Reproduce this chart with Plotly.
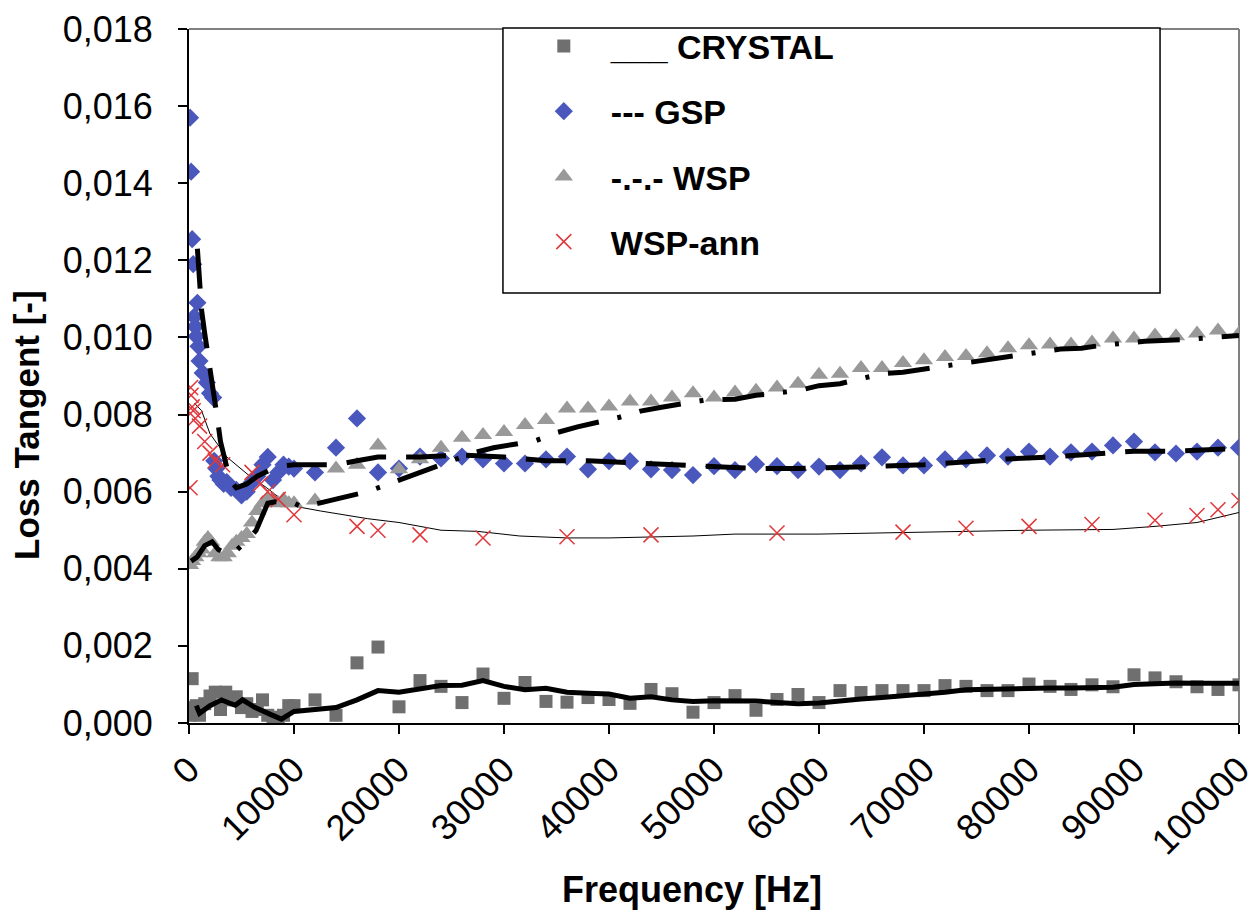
import plotly.graph_objects as go

# ---------------- data ----------------
F_HIGH = [10000, 12000, 14000, 16000, 18000, 20000, 22000, 24000, 26000, 28000,
          30000, 32000, 34000, 36000, 38000, 40000, 42000, 44000, 46000, 48000,
          50000, 52000, 54000, 56000, 58000, 60000, 62000, 64000, 66000, 68000,
          70000, 72000, 74000, 76000, 78000, 80000, 82000, 84000, 86000, 88000,
          90000, 92000, 94000, 96000, 98000, 100000]

# CRYSTAL measured points
crystal_f_low = [100, 200, 300, 500, 700, 1000, 1500, 2000, 2500, 3000, 3500, 4000,
                 4500, 5000, 5500, 6000, 6500, 7000, 7500, 8000, 8500, 9000, 9500]
crystal_v_low = [0.0002, 0.0004, 0.00115, 0.0003, 0.00045, 0.0002, 0.0005, 0.0007,
                 0.0008, 0.00035, 0.0008, 0.0006, 0.00068, 0.0004, 0.0005, 0.0003,
                 0.00035, 0.0006, 0.0002, 0.00015, 0.0001, 0.0002, 0.00045]
crystal_v_high = [0.00045, 0.0006, 0.0002, 0.00156, 0.00197, 0.00042, 0.0011, 0.00095,
                  0.00053, 0.00127, 0.00064, 0.00105, 0.00056, 0.00054, 0.00066, 0.00061,
                  0.00051, 0.00087, 0.00076, 0.00028, 0.00053, 0.00071, 0.00033, 0.00061,
                  0.00074, 0.00053, 0.00084, 0.00079, 0.00084, 0.00084, 0.00084, 0.00097,
                  0.00095, 0.00084, 0.00084, 0.00101, 0.00095, 0.00087, 0.00099, 0.00094,
                  0.00125, 0.00117, 0.00107, 0.00094, 0.00087, 0.00099]

# GSP measured points
gsp_f_low = [100, 200, 300, 400, 500, 600, 700, 800, 900, 1000, 1300, 1700, 2000, 2300,
             2400, 2600, 2800, 3000, 3300, 3600, 4000, 4500, 5000, 5500, 6000, 6500,
             7000, 7500, 8000, 8500, 9000, 9500]
gsp_v_low = [0.0157, 0.0143, 0.01255, 0.0119, 0.01054, 0.01028, 0.01003, 0.0109,
             0.00977, 0.00939, 0.00908, 0.00883, 0.00855, 0.00844, 0.0068, 0.0066,
             0.0064, 0.0063, 0.0062, 0.00625, 0.0061, 0.00605, 0.0059, 0.006, 0.00625,
             0.0064, 0.0067, 0.0069, 0.0063, 0.0065, 0.0067, 0.00665]
gsp_v_high = [0.0066, 0.0065, 0.00714, 0.0079, 0.0065, 0.0066, 0.00691, 0.00686,
              0.00691, 0.00684, 0.00673, 0.00673, 0.00684, 0.00691, 0.00658, 0.00679,
              0.00679, 0.00658, 0.00656, 0.00643, 0.00666, 0.00656, 0.00671, 0.00666,
              0.00656, 0.00665, 0.00656, 0.00673, 0.00689, 0.00668, 0.00668, 0.00684,
              0.00684, 0.00694, 0.00691, 0.00704, 0.00691, 0.00702, 0.00704, 0.0072,
              0.0073, 0.00702, 0.00699, 0.00704, 0.00714, 0.00714]

# WSP measured points
wsp_f_low = [100, 300, 600, 900, 1200, 1500, 1800, 2100, 2500, 2900, 3300, 3700, 4100,
             4500, 5000, 5500, 6000, 6500, 7000, 7500, 8000, 8500, 9000, 9500]
wsp_v_low = [0.0041, 0.0042, 0.0043, 0.0044, 0.0045, 0.0047, 0.0048, 0.0047, 0.0044,
             0.0043, 0.0043, 0.0044, 0.0046, 0.0047, 0.0048, 0.0049, 0.0052, 0.0055,
             0.0057, 0.0058, 0.0058, 0.0057, 0.0058, 0.0057]
wsp_v_high = [0.0057, 0.00577, 0.0066, 0.0067, 0.0072, 0.00658, 0.00684, 0.00714,
              0.0074, 0.00747, 0.00755, 0.00773, 0.00786, 0.00816, 0.00816, 0.00821,
              0.00834, 0.00834, 0.00844, 0.00855, 0.00844, 0.00857, 0.00862, 0.0087,
              0.0088, 0.00903, 0.00906, 0.00921, 0.00921, 0.00934, 0.00941, 0.00949,
              0.00952, 0.00959, 0.00972, 0.0098, 0.00982, 0.00982, 0.00987, 0.00997,
              0.00997, 0.01005, 0.01003, 0.0101, 0.01018, 0.0101]

# WSP-ann measured points
ann_f = [100, 150, 200, 300, 400, 600, 1000, 1500, 2000, 2500, 3200, 6000, 6800, 7500,
         8500, 10000, 16000, 18000, 22000, 28000, 36000, 44000, 56000, 68000, 74000,
         80000, 86000, 92000, 96000, 98000, 100000]
ann_v = [0.0061, 0.0087, 0.0085, 0.0082, 0.0081, 0.0079, 0.0077, 0.0073, 0.007, 0.0068,
         0.0067, 0.0065, 0.0062, 0.006, 0.0058, 0.0054, 0.0051, 0.005, 0.00488, 0.0048,
         0.00483, 0.00488, 0.00493, 0.00495, 0.00505, 0.0051, 0.00515, 0.00526, 0.00538,
         0.00553, 0.00577]

# fitted curves
crystal_fit_f = [700, 1000, 2000, 3100, 4000, 4400, 5100, 6300, 7700, 8800, 10000]
crystal_fit_v_low = [0.00045, 0.00025, 0.00045, 0.0006, 0.0005, 0.00046, 0.0006, 0.0004,
                     0.00023, 0.0001, 0.0003]
crystal_fit_v_high = [0.0003, 0.00036, 0.0004, 0.0006, 0.00084, 0.0008, 0.0009, 0.00097,
                      0.00098, 0.0011, 0.00095, 0.00086, 0.0009, 0.0008, 0.00077, 0.00075,
                      0.00064, 0.00068, 0.0006, 0.00056, 0.00058, 0.00058, 0.00057,
                      0.00053, 0.0005, 0.00052, 0.00058, 0.00062, 0.00066, 0.0007,
                      0.00074, 0.0008, 0.00086, 0.00088, 0.0009, 0.0009, 0.00091,
                      0.00091, 0.00092, 0.00093, 0.001, 0.00103, 0.00104, 0.00103,
                      0.00103, 0.00103]

gsp_fit_f = [800, 1000, 1200, 1500, 1800, 2200, 2700, 3000, 3500, 3900, 4500, 5500,
             6500, 7500, 8400, 10000, 12000, 14000, 16000, 18000, 20000, 22000, 26000,
             30000, 34000, 38000, 42000, 46000, 50000, 54000, 58000, 62000, 66000,
             70000, 74000, 78000, 82000, 86000, 90000, 94000, 100000]
gsp_fit_v = [0.0123, 0.0113, 0.0107, 0.0101, 0.0096, 0.0089, 0.0079, 0.0073, 0.0067,
             0.0063, 0.0061, 0.0062, 0.0064, 0.00655, 0.00665, 0.0067, 0.0067, 0.0067,
             0.0068, 0.0069, 0.0069, 0.0069, 0.00695, 0.0069, 0.0068, 0.0068, 0.00675,
             0.0067, 0.00665, 0.0066, 0.0066, 0.00662, 0.00666, 0.0067, 0.00678,
             0.00685, 0.0069, 0.00698, 0.00705, 0.00705, 0.00712]

wsp_fit_f = [200, 760, 1500, 2200, 2800, 3400, 4200, 5000, 5800, 6400, 7000, 7500, 8200,
             9500, 10000, 10800, 13000, 17000, 19000, 21000, 25000, 27000, 29000, 33000,
             35000, 37000, 41000, 43000, 45000, 49000, 52000, 54000, 58000, 60000, 62000,
             66000, 68000, 70000, 74000, 77000, 79000, 83000, 85000, 87000, 91000, 93000,
             95000, 100000]
wsp_fit_v = [0.0042, 0.0043, 0.0046, 0.0047, 0.0045, 0.0044, 0.0044, 0.0046, 0.0048,
             0.005, 0.0054, 0.0057, 0.00574, 0.0057, 0.0057, 0.0056, 0.00574, 0.006,
             0.0062, 0.0064, 0.0068, 0.007, 0.00714, 0.00732, 0.00753, 0.00768, 0.00793,
             0.00809, 0.00819, 0.00837, 0.0084, 0.0085, 0.00862, 0.00875, 0.0088,
             0.00906, 0.0091, 0.00918, 0.00934, 0.00944, 0.00952, 0.0097, 0.00972,
             0.0098, 0.0099, 0.00992, 0.00995, 0.01005]

ann_fit_f = [500, 1200, 2000, 3600, 5800, 7400, 9300, 10500, 12500, 17000, 20000, 24000,
             27500, 31500, 36000, 40000, 48000, 52000, 60000, 70000, 80000, 88000, 92000,
             96000, 100000]
ann_fit_v = [0.0083, 0.0081, 0.0075, 0.0069, 0.0064, 0.0061, 0.0057, 0.0056, 0.0055,
             0.0053, 0.0052, 0.005, 0.00497, 0.00485, 0.0048, 0.0048, 0.00485, 0.0049,
             0.0049, 0.00495, 0.005, 0.00502, 0.0051, 0.0052, 0.00546]

X_TICKS = [0, 10000, 20000, 30000, 40000, 50000, 60000, 70000, 80000, 90000, 100000]
Y_TICKS = [0.0, 0.002, 0.004, 0.006, 0.008, 0.010, 0.012, 0.014, 0.016, 0.018]

# ---------------- figure ----------------
FONT = "Liberation Sans, Arial, sans-serif"
fig = go.Figure()

fig.add_trace(go.Scatter(x=ann_fit_f, y=ann_fit_v, mode="lines",
                         line=dict(color="black", width=1), showlegend=False,
                         hoverinfo="skip"))

fig.add_trace(go.Scatter(x=crystal_f_low + F_HIGH, y=crystal_v_low + crystal_v_high,
                         mode="markers", name="___ CRYSTAL", legendgroup="a",
                         marker=dict(symbol="square", size=13, color="#6f6f6f")))
fig.add_trace(go.Scatter(x=gsp_f_low + F_HIGH, y=gsp_v_low + gsp_v_high,
                         mode="markers", name="--- GSP", legendgroup="b",
                         marker=dict(symbol="diamond", size=14, color="#4a58bd")))
fig.add_trace(go.Scatter(x=wsp_f_low + F_HIGH, y=wsp_v_low + wsp_v_high,
                         mode="markers", name="-.-.- WSP", legendgroup="c",
                         marker=dict(symbol="triangle-up", size=16, color="#999999")))
fig.add_trace(go.Scatter(x=ann_f, y=ann_v, mode="markers", name="WSP-ann",
                         legendgroup="d",
                         marker=dict(symbol="x-thin", size=15,
                                     line=dict(color="#e0383c", width=1.5),
                                     color="#e0383c")))

fig.add_trace(go.Scatter(x=crystal_fit_f + F_HIGH[1:], y=crystal_fit_v_low + crystal_fit_v_high[1:],
                         mode="lines", line=dict(color="black", width=5),
                         showlegend=False, hoverinfo="skip"))
fig.add_trace(go.Scatter(x=gsp_fit_f, y=gsp_fit_v, mode="lines",
                         line=dict(color="black", width=5, dash="40px,20px"),
                         showlegend=False, hoverinfo="skip"))
fig.add_trace(go.Scatter(x=wsp_fit_f, y=wsp_fit_v, mode="lines",
                         line=dict(color="black", width=5, dash="42px,19px,4px,19px"),
                         showlegend=False, hoverinfo="skip"))

# grey frame on top and right, legend box
fig.add_shape(type="line", xref="paper", yref="paper", x0=0, x1=1, y0=1, y1=1,
              line=dict(color="#808080", width=2), layer="below")
fig.add_shape(type="line", xref="paper", yref="paper", x0=1, x1=1, y0=0, y1=1,
              line=dict(color="#808080", width=2), layer="below")
fig.add_shape(type="rect", xref="paper", yref="paper", x0=0.299, x1=0.9248,
              y0=0.6196, y1=1.0014, line=dict(color="black", width=1.5),
              fillcolor="white", layer="below")

# axis titles
fig.add_annotation(text="<b>Frequency [Hz]</b>", xref="paper", yref="paper",
                   x=0.479, y=-0.2406, xanchor="center", yanchor="middle",
                   showarrow=False, font=dict(family=FONT, size=36, color="black"))
fig.add_annotation(text="<b>Loss Tangent [-]</b>", xref="paper", yref="paper",
                   x=-0.1543, y=0.4294, xanchor="center", yanchor="middle",
                   textangle=-90, showarrow=False,
                   font=dict(family=FONT, size=35, color="black"))

# the page body adds an 8px offset; the figure is sized so the plot lands in place
fig.update_layout(
    width=1250, height=911,
    margin=dict(l=181, r=19, t=21, b=196, autoexpand=False),
    paper_bgcolor="white", plot_bgcolor="white",
    separators=", ",
    font=dict(family=FONT, color="black", size=36),
    showlegend=True,
    legend=dict(x=0.3122, y=1.0167, xanchor="left", yanchor="top",
                bgcolor="rgba(0,0,0,0)", borderwidth=0,
                font=dict(family=FONT, size=34, weight="bold", color="black"),
                itemwidth=84, traceorder="grouped", tracegroupgap=18),
    xaxis=dict(range=[0, 100000.5], tickvals=X_TICKS, tickformat="d", tickangle=-45,
               showline=True, linecolor="black", linewidth=2, mirror=False,
               ticks="outside", ticklen=9, tickwidth=2, tickcolor="black",
               showgrid=False, zeroline=False, automargin=False,
               ticklabeloverflow="allow",
               tickfont=dict(family=FONT, size=36)),
    yaxis=dict(range=[0, 0.0180001], tickvals=Y_TICKS, tickformat=".3f",
               showline=True, linecolor="black", linewidth=2,
               ticks="outside", ticklen=9, tickwidth=2, tickcolor="black",
               showgrid=False, zeroline=False, automargin=False,
               ticklabelstandoff=18, ticklabeloverflow="allow",
               tickfont=dict(family=FONT, size=36)),
)

fig.write_html("out.html")
